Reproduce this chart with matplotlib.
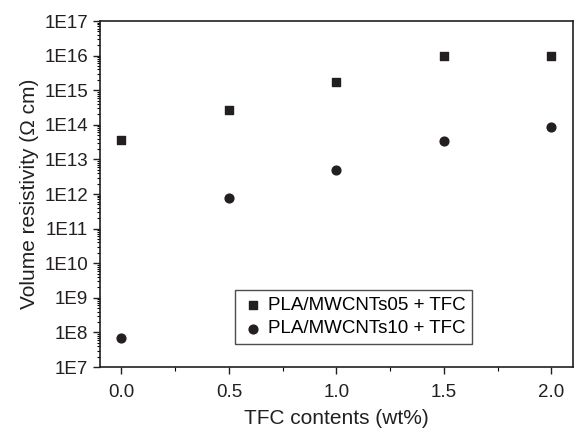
import matplotlib
matplotlib.use('Agg')
from matplotlib import pyplot as plt
from matplotlib import ticker
import numpy as np

tfc = [0.0, 0.5, 1.0, 1.5, 2.0]
mwcnt05 = [3.6e13, 2.7e14, 1.7e15, 1.0e16, 1.0e16]
mwcnt10 = [6.9e7, 7.6e11, 4.9e12, 3.4e13, 8.7e13]
labels = ['PLA/MWCNTs05 + TFC', 'PLA/MWCNTs10 + TFC']

plt.rcParams['font.family'] = ['Liberation Sans', 'DejaVu Sans']

fig = plt.figure(figsize=(5.74, 4.29), dpi=100)
ax = fig.add_axes([0.1742, 0.1445, 0.8238, 0.8065])

ax.scatter(tfc, mwcnt05, marker='s', s=36, color='#231f20', label=labels[0], zorder=3)
ax.scatter(tfc, mwcnt10, marker='o', s=40, color='#231f20', label=labels[1], zorder=3)

ax.set_yscale('log')
ax.set_ylim(1e7, 1e17)
ax.set_xlim(-0.1, 2.1)

ax.yaxis.set_major_locator(ticker.LogLocator(base=10, numticks=20))
ax.yaxis.set_major_formatter(ticker.FuncFormatter(lambda v, p: '1E%d' % round(np.log10(v))))
ax.yaxis.set_minor_locator(ticker.LogLocator(base=10, subs=np.arange(2, 10), numticks=20))
ax.yaxis.set_minor_formatter(ticker.NullFormatter())

ax.xaxis.set_major_locator(ticker.MultipleLocator(0.5))
ax.xaxis.set_minor_locator(ticker.MultipleLocator(0.25))
ax.xaxis.set_major_formatter(ticker.FormatStrFormatter('%.1f'))

ax.tick_params(which='major', direction='out', length=5, width=1, labelsize=13.5, colors='#231f20')
ax.tick_params(axis='x', which='major', pad=7)
ax.tick_params(which='minor', direction='out', length=3, width=0.8)
ax.tick_params(axis='y', which='minor', length=2.5)
for s in ax.spines.values():
    s.set_linewidth(1.2)
    s.set_color('#231f20')

ax.set_xlabel('TFC contents (wt%)', fontsize=15, color='#231f20', labelpad=6)
ax.set_ylabel('Volume resistivity (\u03a9 cm)', fontsize=15, color='#231f20', labelpad=4)

leg = ax.legend(loc='center', bbox_to_anchor=(0.616, 0.261), bbox_transform=fig.transFigure,
                fontsize=13.5, frameon=True, fancybox=False, edgecolor='#231f20',
                handletextpad=0.2, borderpad=0.35, labelspacing=0.35, handlelength=1.2)
leg.get_frame().set_linewidth(1.0)

fig.savefig('out.png', dpi=100)
